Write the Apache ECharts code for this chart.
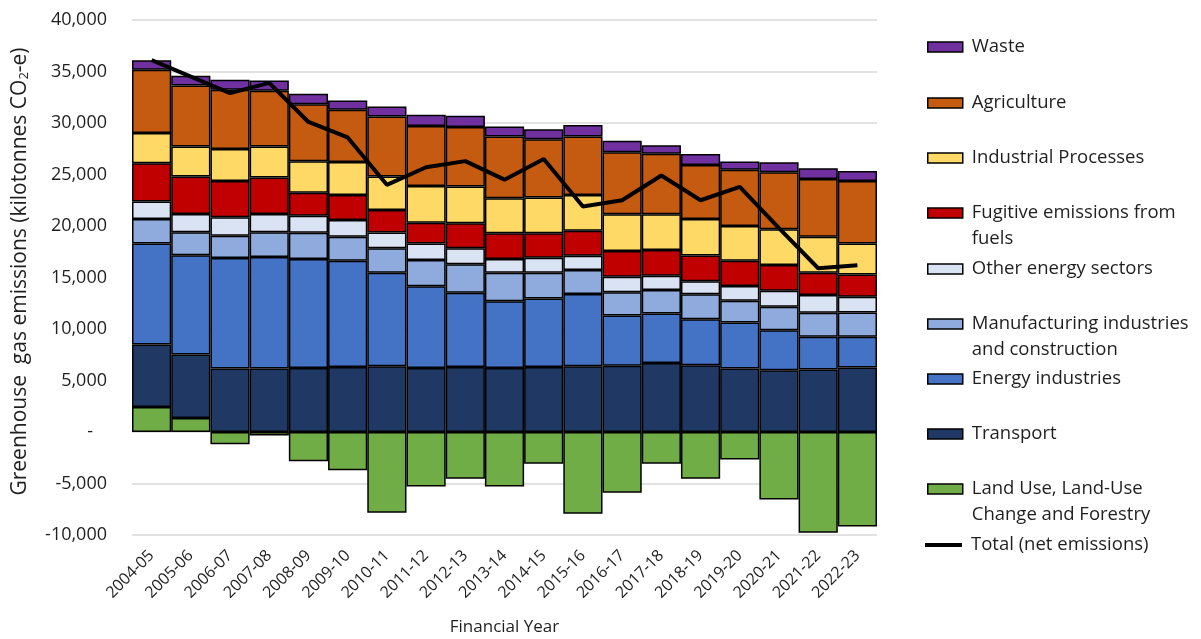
<!DOCTYPE html>
<html>
<head>
<meta charset="utf-8">
<script src="https://cdn.jsdelivr.net/npm/echarts@6/dist/echarts.min.js"></script>
<style>
  html, body { margin: 0; padding: 0; background: #ffffff; }
  #chart { width: 1201px; height: 639px; }
</style>
</head>
<body>
<div id="chart"></div>
<script>
// Financial years on the category axis
const years = ['2004-05', '2005-06', '2006-07', '2007-08', '2008-09', '2009-10', '2010-11',
  '2011-12', '2012-13', '2013-14', '2014-15', '2015-16', '2016-17', '2017-18', '2018-19',
  '2019-20', '2020-21', '2021-22', '2022-23'];

// Sector emissions, kilotonnes CO2-e
const lulucf = [2430, 1360, -1200, -350, -2850, -3720, -7840, -5280, -4540, -5280, -3080,
  -7940, -5900, -3080, -4540, -2660, -6550, -9790, -9170];
const transport = [6060, 6160, 6160, 6160, 6220, 6320, 6390, 6220, 6320, 6220, 6320, 6390,
  6420, 6710, 6480, 6160, 6000, 6060, 6260];
const energyIndustries = [9820, 9630, 10730, 10830, 10570, 10310, 9080, 7940, 7200, 6480,
  6640, 7000, 4890, 4800, 4470, 4470, 3890, 3180, 2980];
const manufacturing = [2370, 2240, 2170, 2400, 2560, 2330, 2370, 2530, 2760, 2760, 2500,
  2330, 2270, 2270, 2430, 2110, 2270, 2330, 2370];
const otherEnergy = [1690, 1780, 1780, 1780, 1650, 1620, 1520, 1620, 1560, 1330, 1460, 1390,
  1490, 1390, 1260, 1430, 1560, 1720, 1520];
const fugitive = [3730, 3630, 3530, 3530, 2240, 2430, 2200, 2010, 2430, 2500, 2370, 2430,
  2500, 2500, 2500, 2460, 2500, 2170, 2170];
const industrial = [2920, 2920, 3110, 3020, 3050, 3210, 3240, 3570, 3570, 3400, 3470, 3470,
  3570, 3470, 3530, 3370, 3470, 3500, 3010];
const agriculture = [6160, 5930, 5740, 5410, 5540, 5060, 5830, 5830, 5770, 6000, 5670, 5670,
  6030, 5870, 5250, 5450, 5540, 5610, 6060];
const waste = [910, 940, 970, 1000, 1000, 910, 970, 1070, 1100, 970, 970, 1130, 1100, 840,
  1070, 810, 970, 1040, 970];

// Net total emissions
const totalNet = [36100, 34500, 32900, 33900, 30100, 28600, 24000, 25700, 26300, 24500,
  26500, 21900, 22500, 24900, 22500, 23800, 19800, 15900, 16200];

// Y axis range and step
const yMin = -10000, yMax = 40000, yStep = 5000;

const FONT = 'Open Sans';
const TEXT = '#1f1f1f';

// Stacked sectors, bottom to top
const sectors = [
  { name: 'Land Use, Land-Use Change and Forestry', label: '\nLand Use, Land-Use\nChange and Forestry', data: lulucf, color: '#70AD47', top: 489 },
  { name: 'Transport', label: 'Transport', data: transport, color: '#203864', top: 434 },
  { name: 'Energy industries', label: 'Energy industries', data: energyIndustries, color: '#4472C4', top: 379 },
  { name: 'Manufacturing industries and construction', label: '\nManufacturing industries\nand construction', data: manufacturing, color: '#8FAADC', top: 324 },
  { name: 'Other energy sectors', label: 'Other energy sectors', data: otherEnergy, color: '#DAE3F3', top: 269 },
  { name: 'Fugitive emissions from fuels', label: '\nFugitive emissions from\nfuels', data: fugitive, color: '#C00000', top: 213 },
  { name: 'Industrial Processes', label: 'Industrial Processes', data: industrial, color: '#FFD966', top: 158 },
  { name: 'Agriculture', label: 'Agriculture', data: agriculture, color: '#C55A11', top: 103 },
  { name: 'Waste', label: 'Waste', data: waste, color: '#7030A0', top: 47 }
];

const LINE_H = 26;
const LEGEND_FONT = 18.5;

const series = sectors.map(s => ({
  name: s.name,
  type: 'bar',
  stack: 'sectors',
  barCategoryGap: '0%',
  data: s.data,
  itemStyle: { color: s.color, borderColor: '#000000', borderWidth: 1.5 },
  emphasis: { disabled: true }
}));

series.push({
  name: 'Total (net emissions)',
  type: 'line',
  data: totalNet,
  symbol: 'none',
  lineStyle: { color: '#000000', width: 4 },
  itemStyle: { color: '#000000' },
  z: 10
});

const legendText = { fontFamily: FONT, fontSize: LEGEND_FONT, color: TEXT, lineHeight: LINE_H, padding: [0, 0, 0, 4] };

// One legend block per entry so every row sits at its own height
const legends = sectors.map(s => {
  const lines = s.label.split('\n').length;
  return {
    orient: 'vertical',
    left: 927,
    top: s.top - lines * LINE_H / 2,
    padding: 0,
    data: [s.name],
    itemWidth: 35,
    itemHeight: 10,
    icon: 'rect',
    itemStyle: { borderColor: '#000000', borderWidth: 1.5 },
    formatter: () => s.label,
    textStyle: legendText,
    selectedMode: false
  };
});
legends.push({
  orient: 'vertical',
  left: 925,
  top: 545 - LINE_H / 2,
  padding: 0,
  data: ['Total (net emissions)'],
  itemWidth: 37,
  itemHeight: 4,
  icon: 'rect',
  itemStyle: { color: '#000000', borderWidth: 0 },
  textStyle: legendText,
  selectedMode: false
});

const chart = echarts.init(document.getElementById('chart'), null, { renderer: 'canvas' });
chart.setOption({
  backgroundColor: '#ffffff',
  animation: false,
  textStyle: { fontFamily: FONT },
  grid: { left: 132, right: 324, top: 20, bottom: 104, containLabel: false, outerBoundsMode: 'none' },
  legend: legends,
  xAxis: {
    type: 'category',
    data: years,
    boundaryGap: true,
    axisLine: { show: false, onZero: false },
    axisTick: { show: false },
    axisLabel: { rotate: 45, interval: 0, fontFamily: FONT, fontSize: 16, color: TEXT, margin: 18 },
    name: 'Financial Year',
    nameLocation: 'middle',
    nameGap: 84,
    nameTextStyle: { fontFamily: FONT, fontSize: 17, color: TEXT }
  },
  yAxis: {
    type: 'value',
    min: yMin,
    max: yMax,
    interval: yStep,
    axisLine: { show: false },
    axisTick: { show: false },
    splitLine: { lineStyle: { color: '#D9D9D9', width: 1.5 } },
    axisLabel: {
      fontFamily: FONT, fontSize: 18, color: TEXT, margin: 25,
      formatter: v => v === 0 ? '-   ' : v.toLocaleString('en-US')
    },
    name: 'Greenhouse  gas emissions (kilotonnes CO{sub|2}-e)',
    nameLocation: 'middle',
    nameRotate: 90,
    nameGap: 101,
    nameTextStyle: {
      fontFamily: FONT, fontSize: 21, color: TEXT, padding: [0, 0, 0, 12],
      rich: { sub: { fontFamily: FONT, fontSize: 13, color: TEXT, verticalAlign: 'bottom', lineHeight: 21 } }
    }
  },
  series: series
});
</script>
</body>
</html>
